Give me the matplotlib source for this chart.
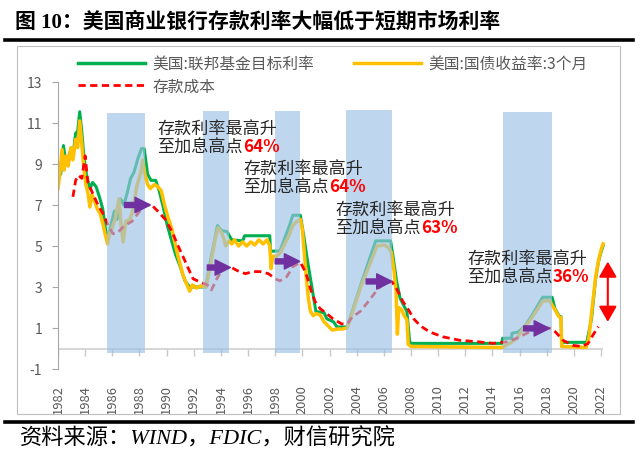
import numpy as np
import matplotlib.pyplot as plt
from matplotlib.lines import Line2D
from matplotlib.patches import Rectangle

plt.rcParams['font.family'] = ['Noto Sans CJK SC', 'DejaVu Sans']
plt.rcParams['axes.unicode_minus'] = False

# fed funds target rate (green)
fed_year = [1982.0, 1982.2, 1982.4, 1982.6, 1982.9, 1983.1, 1983.3, 1983.45, 1983.6, 1983.75,
            1983.9, 1984.1, 1984.35, 1984.55, 1984.8, 1985.05, 1985.3, 1985.5, 1985.7, 1985.9,
            1986.15, 1986.35, 1986.6, 1986.85, 1987.1, 1987.35, 1987.6, 1987.9, 1988.15, 1988.35,
            1988.6, 1988.85, 1989.2, 1989.45, 1989.75, 1990.05, 1990.35, 1990.65, 1991.0, 1991.35,
            1991.7, 1992.9, 1993.15, 1993.45, 1993.75, 1994.05, 1994.45, 1994.8, 1995.6, 1995.75,
            1997.6, 1997.65, 1998.35, 1998.6, 1999.05, 1999.3, 1999.85, 2000.1, 2000.35, 2000.55,
            2000.8, 2001.0, 2001.6, 2001.8, 2002.3, 2002.55, 2003.3, 2004.3, 2005.4, 2006.5,
            2006.7, 2006.95, 2007.2, 2007.7, 2007.9, 2008.0, 2014.7, 2014.75, 2015.4, 2015.45,
            2015.9, 2016.4, 2016.9, 2017.3, 2017.7, 2018.4, 2018.6, 2018.9, 2019.05, 2019.1,
            2020.95, 2021.3, 2021.6, 2021.8, 2022.0, 2022.15]
fed_rate = [9.0, 8.5, 9.9, 9.0, 9.6, 9.4, 10.5, 10.6, 11.55, 10.6,
            9.4, 8.45, 7.8, 8.1, 7.9, 7.4, 6.8, 5.8, 5.4, 6.0,
            6.7, 6.3, 7.3, 7.0, 7.6, 8.3, 8.6, 9.3, 9.75, 9.75,
            8.5, 8.2, 8.2, 7.7, 6.9, 6.0, 5.3, 4.6, 4.0, 3.3,
            3.0, 3.0, 4.0, 5.0, 6.0, 5.75, 5.7, 5.3, 5.25, 5.5,
            5.5, 4.75, 4.75, 5.2, 6.0, 6.5, 6.5, 5.5, 4.4, 3.6,
            2.6, 1.8, 1.75, 1.45, 1.3, 1.05, 1.05, 3.1, 5.25, 5.25,
            4.4, 3.25, 2.45, 1.8, 0.35, 0.25, 0.25, 0.5, 0.5, 0.75,
            0.8, 1.1, 1.6, 2.05, 2.5, 2.5, 1.95, 1.6, 1.55, 0.3,
            0.3, 1.45, 3.4, 4.2, 4.7, 5.0]

# 3-month treasury yield (yellow)
tb_year = [1982.0, 1982.15, 1982.3, 1982.45, 1982.6, 1982.75, 1982.95, 1983.1, 1983.3, 1983.45,
           1983.6, 1983.75, 1983.9, 1984.05, 1984.2, 1984.35, 1984.5, 1984.7, 1984.9, 1985.1,
           1985.3, 1985.5, 1985.65, 1985.8, 1986.0, 1986.2, 1986.5, 1986.65, 1986.8, 1987.0,
           1987.3, 1987.5, 1987.8, 1988.1, 1988.25, 1988.4, 1988.6, 1988.8, 1989.1, 1989.35,
           1989.6, 1989.85, 1990.1, 1990.4, 1990.6, 1990.8, 1991.0, 1991.2, 1991.5, 1991.7,
           1991.9, 1992.2, 1992.5, 1992.9, 1993.15, 1993.4, 1993.6, 1993.8, 1994.0, 1994.2,
           1994.35, 1994.6, 1994.8, 1995.0, 1995.3, 1995.6, 1995.9, 1996.2, 1996.5, 1996.8,
           1997.1, 1997.4, 1997.6, 1997.7, 1997.8, 1998.1, 1998.4, 1998.7, 1999.0, 1999.3,
           1999.6, 1999.85, 2000.0, 2000.15, 2000.3, 2000.45, 2000.6, 2000.8, 2001.0, 2001.3,
           2001.6, 2001.9, 2002.2, 2002.6, 2002.9, 2003.3, 2004.3, 2005.5, 2006.0, 2006.3,
           2006.55, 2006.75, 2006.9, 2007.0, 2007.1, 2007.3, 2007.5, 2007.7, 2007.8, 2008.0,
           2014.7, 2015.1, 2015.4, 2015.8, 2016.3, 2016.8, 2017.3, 2017.7, 2018.2, 2018.45,
           2018.6, 2018.9, 2019.05, 2019.1, 2020.9, 2021.1, 2021.35, 2021.6, 2021.85, 2022.0,
           2022.15]
tb_rate = [7.8, 8.6, 9.7, 8.7, 9.4, 8.9, 9.8, 9.2, 10.2, 9.8,
           11.1, 10.0, 8.8, 8.0, 7.6, 6.9, 7.5, 7.2, 6.8, 6.6,
           6.1, 5.5, 5.1, 5.6, 5.9, 6.3, 7.3, 6.0, 5.2, 6.2,
           6.3, 6.7, 7.9, 8.6, 9.2, 8.5, 8.0, 7.8, 8.0, 7.9,
           7.7, 7.0, 6.4, 5.8, 5.2, 4.6, 4.1, 3.6, 3.1, 2.8,
           3.1, 2.95, 3.05, 3.0, 3.8, 4.7, 5.4, 5.9, 5.7, 5.4,
           5.0, 5.25, 5.1, 5.3, 5.0, 5.2, 5.0, 5.2, 5.05, 5.3,
           5.1, 5.3, 5.0, 3.9, 4.5, 4.5, 4.7, 5.1, 5.5, 6.0,
           6.2, 6.3, 5.8, 4.6, 3.4, 2.4, 1.8, 1.6, 1.7, 1.65,
           1.3, 1.1, 0.9, 0.95, 0.95, 1.0, 3.0, 5.0, 5.05, 4.95,
           4.7, 3.8, 2.8, 0.7, 2.0, 1.9, 1.6, 1.4, 0.2, 0.1,
           0.05, 0.2, 0.3, 0.5, 1.0, 1.4, 1.9, 2.3, 2.35, 2.05,
           1.9, 1.55, 1.5, 0.1, 0.05, 0.5, 2.0, 3.5, 4.4, 4.8,
           5.1]

# deposit cost (red dashed)
dep_year = [1983.1, 1983.3, 1983.5, 1983.75, 1984.0, 1984.2, 1984.6, 1984.95, 1985.3, 1985.7,
            1986.05, 1986.4, 1986.9, 1987.45, 1987.9, 1988.4, 1988.9, 1989.35, 1989.9, 1990.4,
            1990.85, 1991.2, 1991.5, 1991.95, 1992.45, 1993.0, 1993.3, 1993.7, 1994.15, 1994.65,
            1995.2, 1995.8, 1996.35, 1996.9, 1997.5, 1998.0, 1998.35, 1998.85, 1999.3, 1999.85,
            2000.1, 2000.35, 2000.6, 2000.93, 2001.3, 2001.8, 2002.25, 2002.9, 2003.3, 2003.7,
            2004.25, 2004.75, 2005.1, 2005.55, 2006.1, 2006.6, 2006.95, 2007.4, 2007.9, 2008.2,
            2008.7, 2009.4, 2010.35, 2011.6, 2012.9, 2014.05, 2015.1, 2015.8, 2016.25, 2017.0,
            2017.7, 2018.4, 2018.75, 2019.2, 2019.95, 2020.6, 2021.05, 2021.4, 2021.8]
dep_cost = [7.4, 8.2, 8.45, 8.3, 9.4, 8.1, 7.5, 7.0, 6.6, 6.0,
            5.6, 5.65, 6.0, 6.2, 6.6, 7.0, 7.0, 6.7, 6.3, 5.7,
            5.0, 4.5, 4.05, 3.4, 3.25, 3.1, 2.85, 3.4, 3.9, 4.0,
            3.8, 3.65, 3.75, 3.75, 3.65, 3.4, 3.3, 3.5, 4.0, 4.2,
            3.9, 3.5, 2.9, 2.3, 1.95, 1.7, 1.45, 1.2, 1.2, 1.55,
            1.8, 2.2, 2.5, 2.9, 3.2, 3.25, 2.9, 2.3, 1.8, 1.45,
            1.1, 0.8, 0.57, 0.4, 0.33, 0.25, 0.33, 0.5, 0.65, 0.9,
            1.05, 0.97, 0.73, 0.4, 0.15, 0.1, 0.25, 0.65, 1.07]

# hiking cycles (blue bands)
hike_start = [1985.6, 1992.7, 1998.0, 2003.2, 2014.8]
hike_end = [1988.4, 1994.6, 1999.8, 2006.6, 2018.4]
hike_top = [11.5, 11.6, 11.6, 11.65, 11.55]
hike_bottom = -0.2

# lag arrows
arrow_start = [1986.9, 1993.0, 1998.0, 2004.7, 2016.3]
arrow_end = [1988.8, 1994.7, 1999.8, 2006.6, 2018.2]
arrow_level = [7.0, 3.95, 4.25, 3.27, 0.98]

# current gap
gap_year = 2022.5
gap_low = 1.3
gap_high = 4.24

note_pct = ['64%', '64%', '63%', '36%']
note_px = [(157, 129), (243, 169), (335, 210), (467, 259)]

year_ticks = list(range(1982, 2023, 2))
rate_ticks = list(range(-1, 14, 2))

W, H = 640, 456
fig = plt.figure(figsize=(W / 100, H / 100), dpi=100)
ax = fig.add_axes([58 / W, 1 - 370 / H, (614.6 - 58) / W, 287 / H])

ax.plot(fed_year, fed_rate, color='#00B050', lw=2.2, zorder=2)
ax.plot(tb_year, tb_rate, color='#FFC000', lw=2.5, zorder=2.1)
ax.plot(dep_year, dep_cost, color='#FF0000', lw=2.0, dashes=(2.6, 1.6), zorder=2.2)

ax.bar(hike_start, np.array(hike_top) - hike_bottom, bottom=hike_bottom,
       width=np.array(hike_end) - np.array(hike_start), align='edge',
       color='#9BC2E6', alpha=0.65, linewidth=0, zorder=3)

for s, e, lv in zip(arrow_start, arrow_end, arrow_level):
    ax.annotate('', xy=(e, lv), xytext=(s, lv),
                arrowprops=dict(arrowstyle='simple,head_length=1.1,head_width=1.1,tail_width=0.36',
                                mutation_scale=10, color='#7030A0', shrinkA=0, shrinkB=0),
                zorder=4)

ax.annotate('', xy=(gap_year, gap_high), xytext=(gap_year, gap_low),
            arrowprops=dict(arrowstyle='<|-|>,head_length=0.47,head_width=0.27',
                            mutation_scale=20, color='#FF0000', lw=1.5, shrinkA=0, shrinkB=0),
            zorder=4, annotation_clip=False)

# zero line with its tick marks
ax.hlines(0, year_ticks[0], fed_year[-1], color='#D0D0D0', lw=1.2, zorder=1.5)
ax.plot(year_ticks, np.zeros(len(year_ticks)), ls='none', marker=3, ms=5,
        mew=1, color='#C8C8C8', zorder=1.5)

ax.set_xlim(1982, 2023)
ax.set_ylim(-1, 13)
ax.set_xticks(year_ticks)
ax.set_xticklabels([str(y) for y in year_ticks], rotation=90, fontsize=9.3, color='#595959')
ax.set_yticks(rate_ticks)
ax.set_yticklabels([str(r) for r in rate_ticks], fontsize=10, color='#595959')
ax.tick_params(axis='x', length=0, pad=11)
ax.tick_params(axis='y', direction='out', length=4.3, width=0.8, color='#A6A6A6', pad=7)
for side in ['top', 'right', 'bottom']:
    ax.spines[side].set_visible(False)
ax.spines['left'].set_color('#A6A6A6')
ax.spines['left'].set_linewidth(0.8)
ax.patch.set_alpha(0)

handles = [Line2D([], [], color='#00B050', lw=2.5),
           Line2D([], [], color='#FF0000', lw=2.0, dashes=(2.6, 1.6)),
           Line2D([], [], color='#FFC000', lw=2.5)]
labels = ['美国:联邦基金目标利率', '存款成本', '美国:国债收益率:3个月']
ax.legend(handles, labels, ncol=2, loc='upper left',
          bbox_to_anchor=(78 / W, 1 - 56 / H), bbox_transform=fig.transFigure,
          frameon=False, handlelength=4.3, handletextpad=0.45, columnspacing=2.5,
          labelspacing=0.35, borderpad=0, borderaxespad=0, prop={'size': 11.3},
          labelcolor='#595959')

for (px, py), pct in zip(note_px, note_pct):
    fig.text(px / W, 1 - py / H, '存款利率最高升', fontsize=12.3, color='#262626', va='center')
    t2 = fig.text(px / W, 1 - (py + 18.5) / H, '至加息高点', fontsize=12.3, color='#262626', va='center')
    ax.annotate(pct, xy=(1, 0.5), xycoords=t2, va='center', ha='left',
                fontsize=12.3, color='#FF0000', fontweight='bold')

# title, rules, frame, source
fig.text(15 / W, 1 - 23 / H, '图 10：美国商业银行存款利率大幅低于短期市场利率', fontsize=15,
         fontweight='bold', va='center', family=['Liberation Serif', 'Noto Sans CJK SC'])
fig.add_artist(Line2D([5 / W, 633 / W], [1 - 41 / H] * 2, color='black', lw=2.6))
fig.add_artist(Line2D([5 / W, 633 / W], [1 - 423 / H] * 2, color='black', lw=2.6))
fig.add_artist(Rectangle((17 / W, 1 - 415 / H), (620 - 17) / W, (415 - 47) / H,
                         fill=False, edgecolor='#BFBFBF', lw=0.8))
fig.text(20 / W, 1 - 439 / H, '资料来源：WIND，FDIC，财信研究院', fontsize=16, style='italic',
         va='center', family=['Liberation Serif', 'Noto Sans CJK SC'])

fig.savefig('out.png', dpi=100)
